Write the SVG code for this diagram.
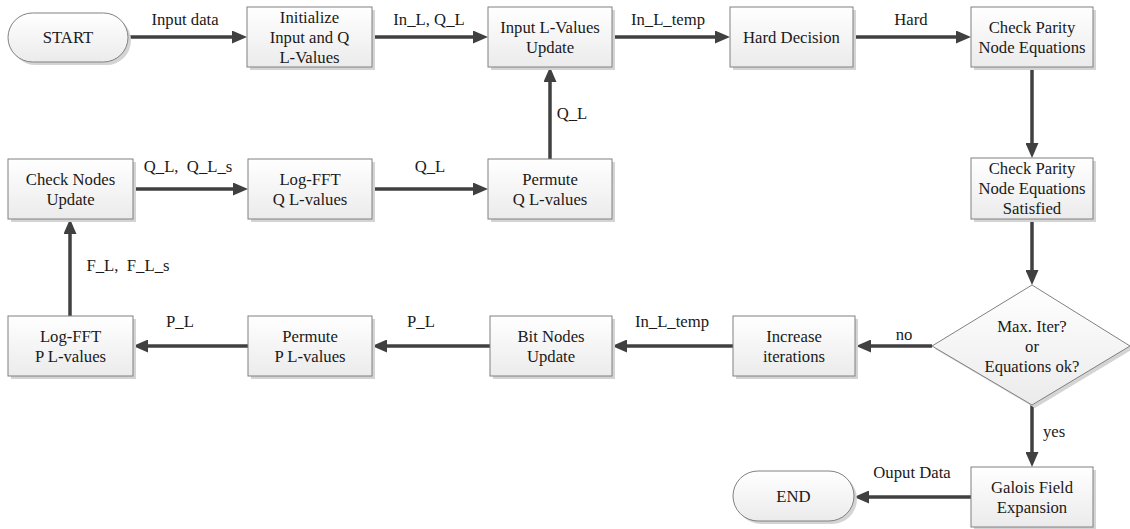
<svg xmlns="http://www.w3.org/2000/svg" width="1130" height="529" viewBox="0 0 1130 529">
  <defs>
    <linearGradient id="boxFill" x1="0" y1="0" x2="0" y2="1">
      <stop offset="0" stop-color="#ffffff"/>
      <stop offset="1" stop-color="#ebebeb"/>
    </linearGradient>
    <marker id="ah" markerUnits="userSpaceOnUse" markerWidth="15" markerHeight="13" refX="1" refY="6.5" orient="auto">
      <path d="M0,0 L15,6.5 L0,13 z" fill="#404040"/>
    </marker>
    <style>
      .box { fill: url(#boxFill); stroke: #808080; stroke-width: 1; }
      .shadow { fill: #d4d4d4; }
      text { font-family: 'Liberation Serif', 'DejaVu Serif', serif; font-size: 16.7px; fill: #1a1a1a; text-anchor: middle; }
      .conn path { fill: none; stroke: #404040; stroke-width: 3.5; marker-end: url(#ah); }
    </style>
  </defs>
  <rect width="1130" height="529" fill="#ffffff"/>

  <!-- connectors -->
  <g id="connectors" class="conn">
    <path d="M128,37 H233"/>
    <path d="M372,37 H474"/>
    <path d="M612,37 H716"/>
    <path d="M853,37 H957"/>
    <path d="M1032,67 V144"/>
    <path d="M1032,219 V271"/>
    <path d="M1032,405 V453"/>
    <path d="M971,497 H868"/>
    <path d="M932,346 H870"/>
    <path d="M733,346 H626"/>
    <path d="M490,346 H386"/>
    <path d="M248,346 H147"/>
    <path d="M70,316 V233"/>
    <path d="M133,189 H234"/>
    <path d="M372,189 H474"/>
    <path d="M550,159 V81"/>
  </g>

  <!-- connector labels -->
  <g id="labels">
    <text x="185" y="25">Input data</text>
    <text x="429" y="25">In_L, Q_L</text>
    <text x="668" y="25">In_L_temp</text>
    <text x="911" y="25">Hard</text>
    <text x="188" y="172" xml:space="preserve">Q_L,  Q_L_s</text>
    <text x="430" y="172">Q_L</text>
    <text x="572" y="119">Q_L</text>
    <text x="128" y="271" xml:space="preserve">F_L,  F_L_s</text>
    <text x="180" y="327">P_L</text>
    <text x="421" y="327">P_L</text>
    <text x="672" y="327">In_L_temp</text>
    <text x="904" y="340">no</text>
    <text x="1054" y="437">yes</text>
    <text x="912" y="478">Ouput Data</text>
  </g>

  <!-- row 1 -->
  <g id="start">
    <rect class="shadow" x="11" y="16" width="120" height="49" rx="24.5"/>
    <rect class="box" x="8" y="13" width="120" height="49" rx="24.5"/>
    <text x="68" y="43">START</text>
  </g>
  <g id="init">
    <rect class="shadow" x="250" y="10" width="125" height="60"/>
    <rect class="box" x="247" y="7" width="125" height="60"/>
    <text x="309.5" y="23">Initialize</text>
    <text x="309.5" y="43">Input and Q</text>
    <text x="309.5" y="63">L-Values</text>
  </g>
  <g id="input-update">
    <rect class="shadow" x="491" y="10" width="124" height="60"/>
    <rect class="box" x="488" y="7" width="124" height="60"/>
    <text x="550" y="33">Input L-Values</text>
    <text x="550" y="53">Update</text>
  </g>
  <g id="hard-decision">
    <rect class="shadow" x="733" y="10" width="123" height="60"/>
    <rect class="box" x="730" y="7" width="123" height="60"/>
    <text x="791.5" y="43">Hard Decision</text>
  </g>
  <g id="check-parity">
    <rect class="shadow" x="974" y="10" width="122" height="60"/>
    <rect class="box" x="971" y="7" width="122" height="60"/>
    <text x="1032" y="33">Check Parity</text>
    <text x="1032" y="53">Node Equations</text>
  </g>

  <!-- row 2 -->
  <g id="check-nodes">
    <rect class="shadow" x="11" y="162" width="125" height="60"/>
    <rect class="box" x="8" y="159" width="125" height="60"/>
    <text x="70.5" y="185">Check Nodes</text>
    <text x="70.5" y="205">Update</text>
  </g>
  <g id="logfft-q">
    <rect class="shadow" x="251" y="162" width="124" height="60"/>
    <rect class="box" x="248" y="159" width="124" height="60"/>
    <text x="310" y="185">Log-FFT</text>
    <text x="310" y="205">Q L-values</text>
  </g>
  <g id="permute-q">
    <rect class="shadow" x="491" y="162" width="124" height="60"/>
    <rect class="box" x="488" y="159" width="124" height="60"/>
    <text x="550" y="185">Permute</text>
    <text x="550" y="205">Q L-values</text>
  </g>
  <g id="parity-satisfied">
    <rect class="shadow" x="974" y="161" width="122" height="61"/>
    <rect class="box" x="971" y="158" width="122" height="61"/>
    <text x="1032" y="174">Check Parity</text>
    <text x="1032" y="194">Node Equations</text>
    <text x="1032" y="214">Satisfied</text>
  </g>

  <!-- row 3 -->
  <g id="logfft-p">
    <rect class="shadow" x="11" y="319" width="125" height="60"/>
    <rect class="box" x="8" y="316" width="125" height="60"/>
    <text x="70.5" y="342">Log-FFT</text>
    <text x="70.5" y="362">P L-values</text>
  </g>
  <g id="permute-p">
    <rect class="shadow" x="251" y="319" width="124" height="60"/>
    <rect class="box" x="248" y="316" width="124" height="60"/>
    <text x="310" y="342">Permute</text>
    <text x="310" y="362">P L-values</text>
  </g>
  <g id="bit-nodes">
    <rect class="shadow" x="493" y="319" width="122" height="60"/>
    <rect class="box" x="490" y="316" width="122" height="60"/>
    <text x="551" y="342">Bit Nodes</text>
    <text x="551" y="362">Update</text>
  </g>
  <g id="increase">
    <rect class="shadow" x="736" y="319" width="122" height="60"/>
    <rect class="box" x="733" y="316" width="122" height="60"/>
    <text x="794" y="342">Increase</text>
    <text x="794" y="362">iterations</text>
  </g>
  <g id="decision">
    <polygon class="shadow" points="1035,288 1133,349 1035,408 935,349"/>
    <polygon class="box" points="1032,285 1130,346 1032,405 932,346"/>
    <text x="1032" y="332">Max. Iter?</text>
    <text x="1032" y="352">or</text>
    <text x="1032" y="372">Equations ok?</text>
  </g>

  <!-- row 4 -->
  <g id="galois">
    <rect class="shadow" x="974" y="470" width="122" height="60"/>
    <rect class="box" x="971" y="467" width="122" height="60"/>
    <text x="1032" y="493">Galois Field</text>
    <text x="1032" y="513">Expansion</text>
  </g>
  <g id="end">
    <rect class="shadow" x="736" y="474" width="121" height="50" rx="25"/>
    <rect class="box" x="733" y="471" width="121" height="50" rx="25"/>
    <text x="793.5" y="502">END</text>
  </g>
</svg>
